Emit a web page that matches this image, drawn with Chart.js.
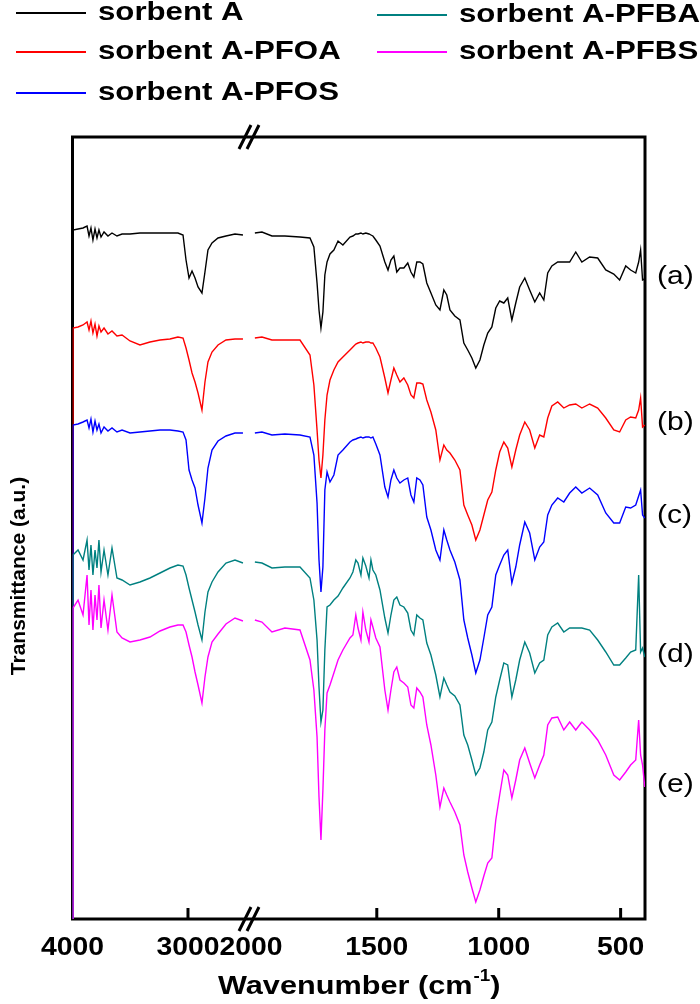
<!DOCTYPE html>
<html>
<head>
<meta charset="utf-8">
<script src="https://cdn.jsdelivr.net/npm/chart.js@4.4.1/dist/chart.umd.min.js"></script>
<style>
html, body { margin: 0; padding: 0; background: #fff; }
#wrap { width: 700px; height: 1004px; }
</style>
</head>
<body>
<div id="wrap"><canvas id="ftir" width="700" height="1004"></canvas></div>
<script>
// wavenumbers (cm-1) shared by all spectra, left and right of the axis break
var WN_LEFT = [4000, 3996, 3952, 3909, 3874, 3857, 3840, 3823, 3805, 3788, 3771, 3753, 3727, 3693, 3658, 3615, 3571,
    3502, 3416, 3329, 3242, 3156, 3087, 3043, 3017, 2991, 2965, 2939, 2913, 2879, 2853, 2827, 2792, 2740, 2671, 2593, 2524];
var WN_RIGHT = [2000, 1971, 1930, 1877, 1815, 1774, 1758, 1745, 1737, 1729, 1721, 1713, 1704, 1692, 1676, 1659, 1639,
    1610, 1598, 1586, 1577, 1565, 1557, 1545, 1532, 1524, 1516, 1504, 1487, 1467, 1454, 1442, 1430, 1418, 1405, 1389,
    1373, 1360, 1348, 1336, 1323, 1311, 1295, 1278, 1258, 1241, 1225, 1213, 1200, 1180, 1159, 1143, 1127, 1110, 1094,
    1077, 1061, 1045, 1028, 1012, 996, 979, 963, 946, 930, 914, 893, 873, 852, 832, 815, 799, 782, 758, 733, 709, 684,
    659, 627, 594, 561, 528, 504, 479, 459, 438, 426, 418, 410, 401];

var TICKS_LEFT = [4000, 3000];
var TICKS_RIGHT = [2000, 1500, 1000, 500];

var NAMES = ['sorbent A', 'sorbent A-PFOA', 'sorbent A-PFOS', 'sorbent A-PFBA', 'sorbent A-PFBS'];
var TAGS = ['(a)', '(b)', '(c)', '(d)', '(e)'];
var COLORS = ['#000000', '#ff0000', '#0000ff', '#008080', '#ff00ff'];

// transmittance, arbitrary units (curves are offset)
var A_LEFT = [81, 770, 771, 772, 774, 764, 772, 760, 771, 762, 770, 763, 768, 764, 767, 764, 766, 766, 767, 767, 767,
    767, 767, 765, 740, 722, 729, 722, 713, 707, 728, 750, 757, 762, 764, 766, 765];
var A_RIGHT = [767, 768, 764, 764, 763, 762, 753, 717, 690, 672, 688, 725, 738, 746, 750, 759, 755,
    763, 764, 766, 766, 767, 766, 767, 766, 765, 764, 760, 754,
    738, 730, 740, 744, 728, 732, 732, 737, 728, 723, 738, 738, 736, 717, 707, 695, 690, 710, 705, 690, 684,
    680, 657, 650, 642, 632, 640, 655, 667, 673, 692, 699, 697, 702, 680, 697, 713, 722, 710, 698, 707, 700, 727, 734,
    738, 738, 738, 748, 738, 743, 742, 730, 726, 720, 734, 730, 727, 738, 750, 720, 721];

var PFOA_LEFT = [81, 672, 673, 675, 678, 670, 679, 667, 676, 664, 674, 668, 672, 666, 669, 664, 665, 659, 655, 658,
    660, 661, 663, 662, 652, 640, 627, 618, 607, 590, 618, 638, 648, 655, 660, 661, 661];
var PFOA_RIGHT = [662, 663, 660, 660, 660, 645, 615, 570, 540, 522, 545, 580, 605, 620, 630, 638, 643,
    650, 653, 656, 657, 658, 657, 658, 658, 657, 657, 652, 643,
    622, 607, 620, 632, 625, 618, 622, 615, 605, 602, 617, 617, 616, 600, 588, 570, 540, 555, 550, 547, 540,
    530, 495, 485, 475, 460, 470, 485, 500, 508, 530, 548, 558, 552, 533, 550, 565, 578, 570, 552, 565, 563, 582, 594,
    598, 592, 595, 596, 592, 596, 592, 582, 570, 568, 580, 583, 582, 590, 602, 573, 575];

var PFOS_LEFT = [81, 575, 576, 578, 580, 572, 581, 568, 579, 570, 576, 567, 573, 569, 572, 568, 570, 567, 568, 569,
    570, 570, 569, 568, 560, 530, 520, 512, 495, 477, 502, 532, 550, 559, 564, 567, 567];
var PFOS_RIGHT = [567, 568, 565, 566, 565, 563, 545, 497, 440, 408, 433, 510, 528, 518, 525, 545, 550,
    558, 560, 561, 562, 563, 562, 563, 563, 562, 563, 556, 545,
    513, 503, 520, 530, 522, 517, 520, 522, 505, 498, 522, 520, 515, 483, 470, 450, 440, 470, 460, 450, 438,
    420, 380, 362, 345, 327, 340, 362, 385, 393, 425, 435, 445, 450, 417, 433, 455, 478, 467, 440, 453, 458, 485, 495,
    502, 498, 507, 513, 507, 512, 505, 487, 477, 477, 493, 492, 495, 504, 510, 485, 482];

var PFBA_LEFT = [81, 445, 450, 440, 460, 430, 455, 425, 450, 432, 460, 428, 450, 425, 452, 422, 420, 415, 418, 422,
    427, 432, 435, 434, 425, 412, 400, 388, 375, 360, 388, 408, 418, 428, 437, 440, 437];
var PFBA_RIGHT = [438, 437, 432, 433, 433, 422, 400, 360, 313, 278, 290, 350, 393, 395, 400, 404, 412,
    422, 428, 440, 437, 425, 442, 434, 422, 440, 430, 425, 410,
    382, 367, 385, 400, 403, 395, 393, 387, 370, 365, 385, 382, 380, 357, 345, 325, 303, 322, 315, 308, 304,
    295, 265, 255, 240, 225, 232, 248, 270, 278, 303, 320, 337, 335, 303, 320, 340, 358, 347, 327, 337, 340, 365, 373,
    377, 368, 372, 372, 372, 370, 360, 348, 335, 335, 342, 348, 350, 425, 348, 352, 343];

var PFBS_LEFT = [81, 392, 400, 385, 425, 375, 410, 370, 405, 380, 415, 372, 400, 370, 405, 368, 362, 358, 360, 363,
    369, 373, 375, 375, 368, 355, 343, 328, 315, 297, 323, 343, 358, 366, 376, 382, 379];
var PFBS_RIGHT = [380, 378, 368, 372, 370, 340, 310, 263, 203, 160, 210, 270, 307, 315, 327, 340, 350,
    362, 365, 385, 372, 360, 388, 370, 358, 380, 373, 362, 353,
    310, 290, 310, 328, 333, 320, 317, 313, 295, 292, 312, 308, 303, 275, 255, 225, 193, 212, 205, 198, 188,
    175, 145, 128, 112, 98, 110, 124, 137, 142, 180, 205, 230, 225, 202, 220, 240, 252, 237, 222, 235, 245, 275, 282,
    283, 270, 278, 270, 278, 270, 260, 245, 225, 220, 228, 235, 240, 280, 245, 235, 213];

var LEFT_VALUES = [A_LEFT, PFOA_LEFT, PFOS_LEFT, PFBA_LEFT, PFBS_LEFT];
var RIGHT_VALUES = [A_RIGHT, PFOA_RIGHT, PFOS_RIGHT, PFBA_RIGHT, PFBS_RIGHT];

var FONT = '"Liberation Sans", Arial, sans-serif';

function toPoints(xs, ys) {
    return xs.map(function(x, i) { return { x: x, y: ys[i] }; });
}

// the source figure is slightly widened, so text is drawn with a horizontal stretch
function wideText(ctx, str, x, y, sx, align) {
    ctx.save();
    ctx.translate(x, y);
    ctx.scale(sx, 1);
    ctx.textAlign = align || 'center';
    ctx.textBaseline = 'middle';
    ctx.fillText(str, 0, 0);
    ctx.restore();
}

var datasets = [];
NAMES.forEach(function(name, i) {
    var common = {
        label: name,
        borderColor: COLORS[i],
        backgroundColor: COLORS[i],
        borderWidth: 1.4,
        pointRadius: 0,
        tension: 0,
        fill: false,
        order: NAMES.length - 1 - i,
        yAxisID: 'y'
    };
    datasets.push(Object.assign({}, common, { xAxisID: 'xl', data: toPoints(WN_LEFT, LEFT_VALUES[i]) }));
    datasets.push(Object.assign({}, common, { xAxisID: 'xr', data: toPoints(WN_RIGHT, RIGHT_VALUES[i]) }));
});

var framePlugin = {
    id: 'ftirFrame',
    beforeDatasetsDraw: function(chart) {
        var a = chart.chartArea, ctx = chart.ctx;
        ctx.save();
        ctx.lineWidth = 3;
        ctx.strokeStyle = '#000';
        ctx.strokeRect(a.left, a.top, a.right - a.left, a.bottom - a.top);
        ctx.restore();
    },
    afterDatasetsDraw: function(chart) {
        var ctx = chart.ctx, a = chart.chartArea;
        var xl = chart.scales.xl, xr = chart.scales.xr, y = chart.scales.y;
        var xb = xr.left;
        ctx.save();
        ctx.strokeStyle = '#000';
        ctx.fillStyle = '#000';
        ctx.lineWidth = 3;

        // inward tick marks and labels
        ctx.font = 'bold 26px ' + FONT;
        [[xl, TICKS_LEFT], [xr, TICKS_RIGHT]].forEach(function(pair) {
            pair[1].forEach(function(v) {
                var px = pair[0].getPixelForValue(v);
                var atBreak = Math.abs(px - xb) < 8;
                if (px > a.left + 5 && !atBreak) {
                    ctx.beginPath();
                    ctx.moveTo(px, a.bottom);
                    ctx.lineTo(px, a.bottom - 11);
                    ctx.stroke();
                }
                wideText(ctx, String(v), atBreak ? xb + 1 : px, a.bottom + 29, 1.09, 'center');
            });
        });

        // axis break marks
        [a.top, a.bottom].forEach(function(yy) {
            ctx.beginPath();
            ctx.moveTo(xb - 11, yy + 12); ctx.lineTo(xb + 1, yy - 12);
            ctx.moveTo(xb - 3, yy + 12); ctx.lineTo(xb + 9, yy - 12);
            ctx.stroke();
        });

        // x title with superscript
        var cx = (a.left + a.right) / 2, ty = 987, sx = 1.18;
        ctx.font = 'bold 26px ' + FONT;
        var main = 'Wavenumber (cm', tail = ')';
        var wMain = ctx.measureText(main).width * sx;
        var wTail = ctx.measureText(tail).width * sx;
        ctx.font = 'bold 16px ' + FONT;
        var wSup = ctx.measureText('-1').width * sx;
        var x0 = cx - (wMain + wSup + wTail) / 2;
        ctx.font = 'bold 26px ' + FONT;
        wideText(ctx, main, x0, ty, sx, 'left');
        wideText(ctx, tail, x0 + wMain + wSup + 1, ty, sx, 'left');
        ctx.font = 'bold 16px ' + FONT;
        wideText(ctx, '-1', x0 + wMain + 1, ty - 10, sx, 'left');

        // y title
        ctx.save();
        ctx.translate(19, 576);
        ctx.rotate(-Math.PI / 2);
        ctx.font = 'bold 21px ' + FONT;
        ctx.textAlign = 'center';
        ctx.textBaseline = 'middle';
        ctx.fillText('Transmittance (a.u.)', 0, 0);
        ctx.restore();

        // curve tags at the right end
        ctx.font = 'normal 25px ' + FONT;
        TAGS.forEach(function(t, i) {
            var vals = RIGHT_VALUES[i];
            wideText(ctx, t, a.right + 12, y.getPixelForValue(vals[vals.length - 1]) - 2, 1.2, 'left');
        });

        // legend in two columns
        var slots = [[16, 13], [16, 52], [16, 93], [377, 15], [377, 52]];
        ctx.font = 'bold 26px ' + FONT;
        NAMES.forEach(function(n, i) {
            var s = slots[i];
            ctx.strokeStyle = COLORS[i];
            ctx.lineWidth = 2;
            ctx.beginPath();
            ctx.moveTo(s[0], s[1]);
            ctx.lineTo(s[0] + 70, s[1]);
            ctx.stroke();
            ctx.fillStyle = '#000';
            wideText(ctx, n, s[0] + 82, s[1], 1.2, 'left');
        });
        ctx.restore();
    }
};

function fixHeight(s) { s.height = 85; }

new Chart(document.getElementById('ftir').getContext('2d'), {
    type: 'line',
    data: { datasets: datasets },
    options: {
        responsive: false,
        animation: false,
        devicePixelRatio: 1,
        layout: { padding: { top: 137, right: 55, bottom: 0, left: 0 } },
        plugins: { legend: { display: false }, tooltip: { enabled: false } },
        scales: {
            xl: {
                type: 'linear', position: 'bottom', stack: 'wn', stackWeight: 177.5,
                min: 2463, max: 4000, reverse: true,
                grid: { display: false }, border: { display: false },
                ticks: { display: false },
                afterBuildTicks: function(s) { s.ticks = TICKS_LEFT.map(function(v) { return { value: v }; }); },
                afterFit: fixHeight
            },
            xr: {
                type: 'linear', position: 'bottom', stack: 'wn', stackWeight: 395,
                min: 400, max: 2020, reverse: true,
                grid: { display: false }, border: { display: false },
                ticks: { display: false },
                afterBuildTicks: function(s) { s.ticks = TICKS_RIGHT.map(function(v) { return { value: v }; }); },
                afterFit: fixHeight
            },
            y: {
                type: 'linear', position: 'left', min: 81, max: 863,
                grid: { display: false }, border: { display: false },
                ticks: { display: false },
                afterFit: function(s) { s.width = 72.5; }
            }
        }
    },
    plugins: [framePlugin]
});
</script>
</body>
</html>
